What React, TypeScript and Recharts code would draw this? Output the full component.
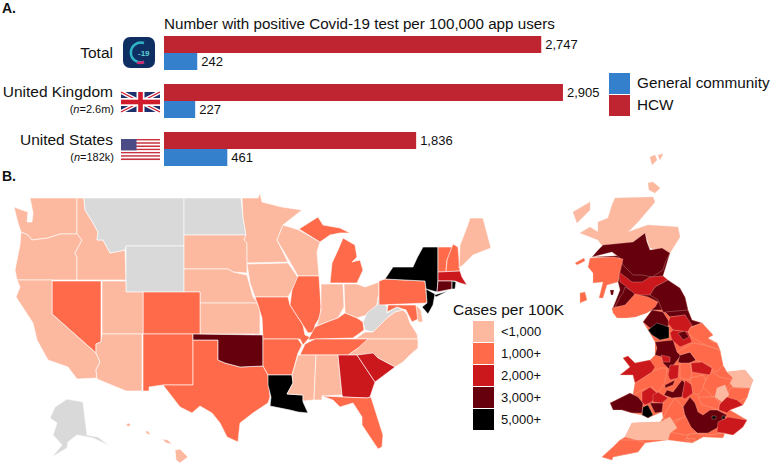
import { BarChart, Bar, XAxis, YAxis, LabelList, Legend, ScatterChart, Scatter } from "recharts";

// panel A
const groups = ["Total", "United Kingdom", "United States"];
const groupNotes = ["", "=2.6m)", "=182k)"];
const hcw = [2747, 2905, 1836];
const community = [242, 227, 461];
const barData = groups.map((g, i) => ({ group: g, hcw: hcw[i], community: community[i] }));
const RED = "#be2530";
const BLUE = "#3480cc";

// panel B, colour bins
const binLabels = ["<1,000", "1,000+", "2,000+", "3,000+", "5,000+"];
const binColors = ["#fdb9a0", "#ff6b4a", "#cb181d", "#67000d", "#000000"];
const NODATA = "#d9d9d9";

// outlines in map units, [region, bin, outline]; bin -1 means no data
const usRegions: [string, number, string][] = [
  ["WA", 0, "14,207 22,210 28,212 27,222 32,222 33,213 30,198 77,198 77,234 60,234 48,238 32,240 28,235 21,232 18,223"],
  ["OR", 0, "21,232 28,235 32,240 48,238 60,234 77,234 82,240 75,253 77,257 77,280 17,280 15,270 20,245"],
  ["ID", 0, "77,198 84,198 85,210 93,223 98,232 97,240 103,240 110,253 125,250 126,280 77,280 77,257 75,253 82,240 77,234"],
  ["MT", -1, "84,198 184,198 184,246 126,246 125,250 110,253 103,240 97,240 98,232 93,223 85,210"],
  ["WY", -1, "126,246 184,246 184,292 126,292"],
  ["ND", -1, "184,198 241,198 243,217 246,235 184,235"],
  ["SD", 0, "184,235 246,235 244,240 247,243 247,273 233,272 228,269 184,269"],
  ["NE", 0, "184,269 228,269 233,272 247,275 253,297 258,303 200,303 200,292 184,292"],
  ["KS", 0, "200,303 257,303 260,310 260,334 200,334"],
  ["CO", 1, "143,292 200,292 200,334 143,334"],
  ["UT", 0, "102,281 126,281 126,292 143,292 143,334 102,334"],
  ["NV", 1, "52,281 101,281 101,342 96,344 96,353 52,314"],
  ["CA", 0, "17,280 52,280 52,314 96,353 100,362 96,370 97,378 77,379 68,367 48,360 37,340 33,323 16,297 20,287"],
  ["AZ", 0, "102,334 142,334 142,391 126,391 97,379 96,370 100,362 96,353 96,344 101,342"],
  ["NM", 1, "143,334 193,334 193,385 163,385 149,387 149,391 143,391"],
  ["TX", 1, "193,340 218,340 218,360 225,363 240,367 263,366 268,375 270,397 268,403 253,413 240,423 238,442 227,437 220,423 212,413 200,406 192,413 180,407 163,385 193,385"],
  ["OK", 3, "193,334 263,335 263,366 240,367 225,363 218,360 218,340 193,340"],
  ["MN", 0, "242,198 258,198 260,193 262,202 282,207 302,210 283,225 277,240 288,262 247,263 247,243 244,240 246,235 243,217"],
  ["WI", 0, "283,225 299,230 320,242 317,252 319,276 298,276 290,262 277,240"],
  ["MI-U", 1, "299,229 318,217 323,225 340,228 350,233 340,233 330,235 320,242"],
  ["MI-L", 1, "343,238 355,245 357,257 352,262 360,260 363,270 357,283 330,283 332,263 338,250"],
  ["IA", 0, "247,264 288,263 295,273 298,278 292,290 288,297 255,297 250,283"],
  ["MO", 1, "255,297 288,297 290,305 303,325 305,335 310,337 303,345 300,339 263,339 262,318 258,305"],
  ["IL", 1, "298,276 319,276 321,307 320,317 315,325 314,332 308,333 303,325 290,305 292,290"],
  ["IN", 0, "321,284 343,284 344,307 338,318 327,322 317,326 321,310"],
  ["OH", 0, "344,284 357,284 365,287 379,282 379,295 377,305 367,315 357,318 345,313"],
  ["KY", 1, "345,313 357,318 363,322 364,330 353,338 317,339 308,340 315,327 327,322 338,318"],
  ["WV", -1, "378,297 377,305 367,313 363,322 365,330 373,332 387,318 395,312 403,310 397,307 387,313 387,307"],
  ["VA", 0, "355,339 365,332 373,332 387,318 395,312 403,310 407,314 410,323 417,334 418,339"],
  ["NC", 0, "358,339 418,339 418,348 410,355 403,362 395,367 378,358 368,355 348,355 358,348"],
  ["TN", 1, "315,339 368,339 358,348 348,355 300,355 305,344"],
  ["AR", 1, "263,339 298,339 302,345 298,353 292,375 268,375 263,366"],
  ["LA", 4, "268,375 292,375 293,383 287,394 303,395 303,402 308,413 298,412 290,410 270,406 271,397 268,385"],
  ["MS", 0, "298,355 316,355 314,400 303,401 303,395 287,394 293,383 292,375"],
  ["AL", 0, "316,355 338,355 342,395 322,396 322,400 314,400"],
  ["GA", 2, "338,355 357,355 375,382 370,397 367,398 343,397 342,395"],
  ["SC", 2, "357,355 373,353 378,358 395,367 375,382"],
  ["FL", 1, "322,396 343,397 367,398 371,397 383,435 382,447 378,449 362,425 362,417 353,403 340,407 333,400"],
  ["PA", 1, "379,281 385,279 425,281 426,290 427,303 379,305"],
  ["NY", 4, "385,279 393,267 413,267 417,258 423,247 438,247 438,280 437,292 426,289 425,281"],
  ["NY-LI", 4, "434,295 448,291 436,297"],
  ["NJ", 4, "426,289 435,294 433,305 428,314 422,307 427,303"],
  ["MD", 1, "388,305 416,305 420,318 412,322 406,310 397,307 387,312"],
  ["DE", 0, "416,305 421,310 423,322 418,322"],
  ["VT", 1, "438,247 453,247 447,260 446,272 438,272"],
  ["NH", 1, "453,244 458,247 460,271 446,272 447,260"],
  ["ME", 0, "460,245 467,227 470,218 483,218 491,248 473,255 463,265 459,268"],
  ["MA", 2, "438,272 460,271 462,277 467,285 460,283 455,281 438,281"],
  ["CT", 3, "438,281 452,281 452,289 437,292"],
  ["RI", 4, "452,281 456,282 455,289 452,289"],
  ["AK", -1, "55,407 67,399 83,402 87,435 98,437 110,446 93,438 77,435 68,442 67,448 52,457 62,445 53,435 57,423 50,418"],
  ["HI-1", 0, "126,424 129,423 131,425 128,427"],
  ["HI-2", 0, "145,431 148,431 151,435 147,434"],
  ["HI-3", 0, "162,439 168,440 172,444 166,443"],
  ["HI-4", 0, "175,450 180,449 188,457 180,463 176,460"],
];

const ukRegions: [string, number, string][] = [
  ["England and Wales", 1, "652,310 688,310 692,320 702,323 713,335 708,338 717,343 720,350 723,365 727,372 745,370 753,380 750,388 747,398 743,405 730,410 747,420 743,427 733,435 725,433 703,437 692,443 668,440 645,443 638,452 613,457 612,460 602,457 613,447 620,440 625,437 632,423 660,422 663,418 662,412 648,418 642,415 632,413 622,410 610,403 630,393 633,395 635,383 633,375 620,375 630,367 623,358 628,356 635,363 650,360 655,355 655,342 648,330 643,322"],
  ["Central Scotland", 3, "592,257 670,253 663,276 685,297 688,310 652,310 635,317 612,310 620,290 618,282 620,258"],
  ["Shetland", 0, "650,157 655,155 657,160 652,165"],
  ["Shetland N", 0, "658,155 663,154 660,160"],
  ["Orkney", 0, "648,183 653,182 660,188 655,193 649,190"],
  ["Hebrides", 0, "573,212 590,202 590,210 577,223"],
  ["Highland", 0, "615,198 653,197 655,202 638,222 628,232 642,227 648,225 678,227 680,237 670,253 650,248 645,233 633,242 603,247 598,240 580,233 590,227 598,232 598,222 608,218 612,205"],
  ["Tayside", 3, "603,245 633,242 645,233 647,242 650,250 662,248 670,253 665,263 663,270 652,277 642,275 633,275 623,265 620,258 612,252 592,257 598,250"],
  ["Argyll", 1, "590,258 613,257 623,259 620,272 618,282 607,285 603,298 599,298 603,282 593,283 593,273 588,267"],
  ["Central", 2, "619,272 632,282 642,282 650,277 663,276 668,280 655,287 650,295 635,295 627,287 620,282"],
  ["Ayrshire", 3, "625,287 633,292 635,295 625,307 615,307 620,297 623,293"],
  ["Dumfries", 1, "635,294 648,297 658,302 655,307 647,313 635,317 627,318 617,318 613,313 612,308 625,305"],
  ["Borders", 3, "650,295 655,287 668,280 680,288 685,297 688,310 685,317 663,312 658,300"],
  ["Bute", 3, "610,290 614,290 613,295 611,295"],
  ["Islay", 1, "580,293 585,292 587,300 580,303"],
  ["Mull", 1, "575,263 584,258 585,261 577,265"],
  ["Powys", 1, "633,395 635,383 652,372 660,368 667,368 665,382 662,387 658,393 652,387 642,390"],
  ["Cumbria", 3, "652,310 663,312 670,323 667,327 650,328 643,322"],
  ["Lancashire", 4, "648,330 657,323 669,327 669,338 660,340 652,335"],
  ["Durham", 3, "665,312 688,310 692,320 702,323 690,327 685,315 670,317"],
  ["N Yorkshire", 2, "670,317 685,315 692,325 688,332 673,330 668,323"],
  ["E Riding", 1, "690,328 702,323 713,335 708,338 712,342 717,343 720,350 705,345 693,338 688,332"],
  ["Leeds", 2, "670,333 673,330 688,332 692,342 680,347 672,340"],
  ["York", 3, "678,333 685,331 689,337 683,340"],
  ["Manchester", 3, "655,342 673,340 677,352 683,353 675,363 670,370 663,363 662,357 655,355 657,348"],
  ["Cheshire", 2, "661,355 670,357 670,362 663,362"],
  ["Notts", 3, "680,355 690,352 696,360 685,365 678,362"],
  ["Lincolnshire", 1, "677,352 693,343 705,345 720,350 723,365 717,372 712,370 712,367 703,363 696,360 690,352 680,355"],
  ["Leicestershire", 2, "691,363 702,362 712,368 710,375 698,373 692,372"],
  ["Derbyshire", 1, "680,363 690,363 692,373 690,380 680,378"],
  ["Staffordshire", 2, "670,365 679,365 678,378 670,380 668,375"],
  ["Gwynedd", 2, "623,358 628,356 635,363 650,360 655,367 652,372 635,383 633,375 620,375 630,367"],
  ["Dyfed", 3, "610,403 630,393 638,397 643,403 642,413 632,413 622,410 613,410"],
  ["Glamorgan", 4, "643,407 648,405 653,415 648,418 642,415"],
  ["Gwent", 3, "650,403 663,403 662,412 655,413"],
  ["S Powys", 2, "642,392 650,387 657,393 652,402 645,405 642,402"],
  ["Hereford", 2, "653,395 658,392 668,398 662,403 653,402"],
  ["W Midlands", 3, "665,385 675,380 673,385 665,388"],
  ["Warwickshire", 3, "673,392 682,380 685,383 682,397 672,398 664,395 667,390"],
  ["Northants", 2, "685,380 692,385 693,393 685,399 682,397"],
  ["Rutland", 1, "690,378 703,375 707,383 698,395 693,393"],
  ["Cambridgeshire", 1, "707,377 712,372 720,377 733,380 727,388 713,397 703,387"],
  ["Norfolk", 0, "727,372 745,370 753,380 750,388 733,387 730,383 733,378"],
  ["Suffolk", 1, "730,388 750,388 747,398 737,402 727,397"],
  ["Bedfordshire", 0, "717,388 725,385 729,395 722,402 715,397"],
  ["Essex", 2, "727,397 737,400 743,405 730,410 727,413 719,410 719,405"],
  ["Hertfordshire", 1, "698,397 714,397 720,403 718,410 710,407 702,405"],
  ["Thames Valley", 3, "683,407 690,397 695,403 698,412 703,415 710,410 717,410 727,415 717,428 708,433 697,433 690,427 685,417"],
  ["Kent", 2, "718,422 728,417 747,420 743,427 733,435 717,432"],
  ["London E", 4, "712,416 716,416 716,419 712,419"],
  ["London W", 4, "722,416 725,416 725,419 722,419"],
  ["Sussex", 1, "690,433 708,435 725,433 723,438 703,437 692,443 685,440"],
  ["Hampshire", 1, "670,427 685,415 691,427 697,433 685,435 670,432"],
  ["Wiltshire", 1, "667,410 675,398 683,407 685,417 670,422 663,418"],
  ["Somerset", 0, "632,423 660,422 670,417 677,428 670,433 668,440 637,440 625,437"],
  ["Devon", 1, "620,440 637,440 645,443 638,452 613,457 612,460 602,457 613,447"],
  ["Wight", 1, "687,438 695,439 692,443"],
];

const toPoints = (outline: string) =>
  outline.split(" ").map((p) => {
    const [x, y] = p.split(",").map(Number);
    return { x, y };
  });

const outlineFill = (bin: number) => (bin < 0 ? NODATA : binColors[bin]);

function AppIcon({ x, y }: { x: number; y: number }) {
  return (
    <g>
      <rect x={x} y={y} width={32} height={31} rx={7} fill="#0f2f63" />
      <path d={`M ${x + 21} ${y + 6} A 10 10 0 1 0 ${x + 21} ${y + 25}`} fill="none" stroke="#2fb5c8" strokeWidth={2.5} />
      <path d={`M ${x + 14} ${y + 25.5} A 10 10 0 0 0 ${x + 21} ${y + 25}`} fill="none" stroke="#d4286e" strokeWidth={2.5} />
      <text x={x + 15} y={y + 19} fontSize={8} fontWeight={700} fill="#5fd0d8" fontFamily="Liberation Sans">-19</text>
    </g>
  );
}

function UkFlag({ x, y }: { x: number; y: number }) {
  const w = 39;
  const h = 20;
  return (
    <g>
      <rect x={x} y={y} width={w} height={h} fill="#1f2f6b" />
      <path d={`M ${x} ${y} L ${x + w} ${y + h} M ${x + w} ${y} L ${x} ${y + h}`} stroke="#fff" strokeWidth={4} />
      <path d={`M ${x} ${y} L ${x + w} ${y + h} M ${x + w} ${y} L ${x} ${y + h}`} stroke="#cf1b2b" strokeWidth={1.4} />
      <rect x={x + w / 2 - 4} y={y} width={8} height={h} fill="#fff" />
      <rect x={x} y={y + h / 2 - 4} width={w} height={8} fill="#fff" />
      <rect x={x + w / 2 - 2.3} y={y} width={4.6} height={h} fill="#cf1b2b" />
      <rect x={x} y={y + h / 2 - 2.3} width={w} height={4.6} fill="#cf1b2b" />
    </g>
  );
}

function UsFlag({ x, y }: { x: number; y: number }) {
  const stripes = [0, 1, 2, 3, 4, 5, 6, 7, 8, 9, 10, 11, 12];
  return (
    <g>
      {stripes.map((s) => (
        <rect key={s} x={x} y={y + s * 1.62} width={39} height={1.62} fill={s % 2 ? "#fff" : "#c8323f"} />
      ))}
      <rect x={x} y={y} width={15.5} height={11.4} fill="#4b4c85" />
    </g>
  );
}

function GroupTick({ x, y, payload, index }: any) {
  const note = groupNotes[index];
  const right = 114;
  return (
    <g fontFamily="Liberation Sans" fill="#111">
      <text x={right - 1} y={y + (note ? -4 : 5)} textAnchor="end" fontSize={15.5}>{payload.value}</text>
      {note ? (
        <text x={right} y={y + 12} textAnchor="end" fontSize={11}>
          (<tspan fontStyle="italic">n</tspan>{note}
        </text>
      ) : null}
      {index === 0 ? <AppIcon x={x - 33} y={y - 16} /> : null}
      {index === 1 ? <UkFlag x={x - 35} y={y - 9} /> : null}
      {index === 2 ? <UsFlag x={x - 35} y={y - 10} /> : null}
    </g>
  );
}

function BarLegend() {
  const rows = [["General community", BLUE], ["HCW", RED]];
  return (
    <div style={{ fontFamily: "Liberation Sans", fontSize: 15.3, color: "#111" }}>
      {rows.map(([label, c]) => (
        <div key={label} style={{ display: "flex", alignItems: "center", height: 22, whiteSpace: "nowrap" }}>
          <span style={{ width: 21, height: 21, background: c, marginRight: 7 }} />
          {label}
        </div>
      ))}
    </div>
  );
}

function CasesLegend() {
  return (
    <div style={{ fontFamily: "Liberation Sans", color: "#111" }}>
      <div style={{ fontSize: 15.5, height: 19, whiteSpace: "nowrap" }}>Cases per 100K</div>
      <div style={{ marginLeft: 20, fontSize: 13 }}>
        {binLabels.map((label, i) => (
          <div key={label} style={{ display: "flex", alignItems: "center", height: 22 }}>
            <span style={{ width: 21, height: 21, background: binColors[i], marginRight: 7 }} />
            {label}
          </div>
        ))}
      </div>
    </div>
  );
}

function renderRegion(region: [string, number, string], stroke: string, strokeWidth: number) {
  const [name, bin, outline] = region;
  return (
    <Scatter
      key={name}
      data={toPoints(outline)}
      isAnimationActive={false}
      shape={() => <g />}
      line={(p: any) => (
        <polygon
          points={p.points.map((q: any) => `${q.x},${q.y}`).join(" ")}
          fill={outlineFill(bin)}
          stroke={stroke}
          strokeWidth={strokeWidth}
          strokeLinejoin="round"
        />
      )}
    />
  );
}

export default function App() {
  return (
    <div style={{ position: "absolute", left: 0, top: 0, width: 772, height: 467, background: "#fff", overflow: "hidden" }}>
      <div style={{ position: "absolute", left: 0, top: 0 }}>
        <ScatterChart width={772} height={467} margin={{ top: 0, right: 0, bottom: 0, left: 0 }}>
          <XAxis type="number" dataKey="x" domain={[0, 772]} hide />
          <YAxis type="number" dataKey="y" domain={[0, 467]} reversed hide width={0} />
          {usRegions.map((r) => renderRegion(r, "#ffffff", 0.6))}
          {ukRegions.map((r) => renderRegion(r, "#f3c4b4", 0.3))}
          <Legend
            content={<CasesLegend />}
            layout="vertical"
            verticalAlign="middle"
            wrapperStyle={{ left: 453, top: 301, width: 120, bottom: "auto" }}
          />
          <text x={2} y={13} fontFamily="Liberation Sans" fontSize={14} fontWeight={700} fill="#111">A.</text>
          <text x={2} y={181} fontFamily="Liberation Sans" fontSize={14} fontWeight={700} fill="#111">B.</text>
        </ScatterChart>
      </div>
      <div style={{ position: "absolute", left: 0, top: 0 }}>
        <BarChart
          width={772}
          height={173}
          data={barData}
          layout="vertical"
          barCategoryGap={7}
          barGap={0}
          margin={{ top: 29, right: 196, bottom: 0, left: 0 }}
        >
          <XAxis type="number" domain={[0, 3000]} hide />
          <YAxis type="category" dataKey="group" width={164} axisLine={false} tickLine={false} tick={<GroupTick />} interval={0} />
          <Bar dataKey="hcw" fill={RED} isAnimationActive={false}>
            <LabelList dataKey="hcw" position="right" offset={4} fill="#111" fontSize={13} fontFamily="Liberation Sans" formatter={(v: any) => Number(v).toLocaleString("en-US")} />
          </Bar>
          <Bar dataKey="community" fill={BLUE} isAnimationActive={false}>
            <LabelList dataKey="community" position="right" offset={4} fill="#111" fontSize={13} fontFamily="Liberation Sans" />
          </Bar>
          <Legend content={<BarLegend />} layout="vertical" verticalAlign="middle" wrapperStyle={{ left: 609, top: 72, width: 165, bottom: "auto" }} />
          <text x={164} y={29} fontFamily="Liberation Sans" fontSize={15.2} fill="#111">
            Number with positive Covid-19 test per 100,000 app users
          </text>
        </BarChart>
      </div>
    </div>
  );
}
